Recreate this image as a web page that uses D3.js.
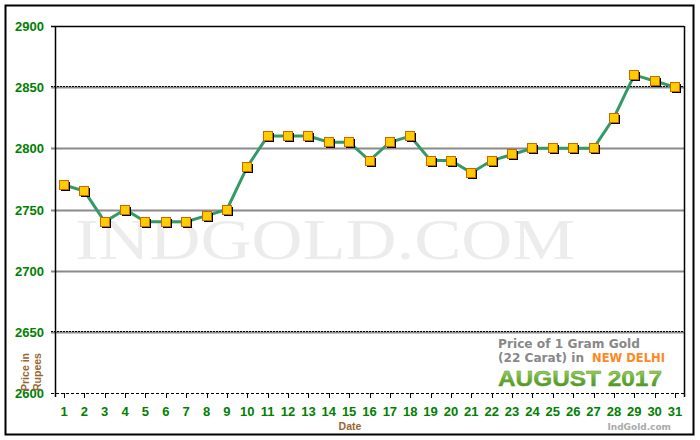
<!DOCTYPE html>
<html><head><meta charset="utf-8">
<script src="https://cdn.jsdelivr.net/npm/d3@7"></script>
<style>body{margin:0;background:#fff}svg{display:block}</style>
</head><body>
<svg id="c" width="700" height="440"></svg>
<script>
const days = d3.range(1, 32);
const prices = [2770,2765,2740,2750,2740,2740,2740,2745,2750,2785,2810,2810,2810,2805,2805,2790,2805,2810,2790,2790,2780,2790,2795,2800,2800,2800,2800,2825,2860,2855,2850];
const yTicks = [2600,2650,2700,2750,2800,2850,2900];
const titleLine1 = "Price of 1 Gram Gold";
const titleLine2a = "(22 Carat) in";
const titleLine2b = "NEW DELHI";
const titleLine3 = "AUGUST 2017";

const svg = d3.select("#c");
const L = 55, R = 684, T = 26, B = 393;
const x = d3.scaleLinear().domain([1, 31]).range([64, 675]);
const y = d3.scaleLinear().domain([2600, 2900]).range([B, T]);

const defs = svg.append("defs");
const g1 = defs.append("linearGradient").attr("id","gg").attr("x1",0).attr("y1",0).attr("x2",0).attr("y2",1);
g1.append("stop").attr("offset","0%").attr("stop-color","#b8e07a");
g1.append("stop").attr("offset","55%").attr("stop-color","#66aa33");
g1.append("stop").attr("offset","100%").attr("stop-color","#3d8a1f");

// outer border
svg.append("rect").attr("x",5.5).attr("y",5.5).attr("width",688).attr("height",429)
  .attr("fill","#fff").attr("stroke","#000").attr("stroke-width",2);

// watermark
svg.append("text").attr("x",75).attr("y",259).attr("font-family","Liberation Serif, serif")
  .attr("font-size",57).attr("fill","#ececec").attr("textLength",500).attr("lengthAdjust","spacingAndGlyphs")
  .text("INDGOLD.COM");

// gridlines
yTicks.forEach(v => {
  const yy = Math.round(y(v));
  if (v === 2900) return;
  if (v === 2600) {
    svg.append("line").attr("x1",51).attr("x2",R).attr("y1",yy+0.5).attr("y2",yy+0.5)
      .attr("stroke","#000").attr("stroke-width",1).attr("stroke-dasharray","3,2");
    return;
  }
  svg.append("line").attr("x1",51).attr("x2",R).attr("y1",yy+0.5).attr("y2",yy+0.5)
    .attr("stroke","#8a8a8a").attr("stroke-width",2);
  if (v === 2850 || v === 2650) {
    svg.append("line").attr("x1",51).attr("x2",R).attr("y1",yy-0.5).attr("y2",yy-0.5)
      .attr("stroke","#000").attr("stroke-width",1).attr("stroke-dasharray","2,1");
  }
});
svg.append("line").attr("x1",51).attr("x2",R).attr("y1",T+0.5).attr("y2",T+0.5).attr("stroke","#000").attr("stroke-width",1.5);
svg.append("line").attr("x1",L+0.5).attr("x2",L+0.5).attr("y1",T).attr("y2",B+4).attr("stroke","#000").attr("stroke-width",1.5);
svg.append("line").attr("x1",R+0.5).attr("x2",R+0.5).attr("y1",T).attr("y2",B+4).attr("stroke","#000").attr("stroke-width",1.5);

// x ticks
svg.append("g").selectAll("line").data(days).join("line")
  .attr("x1", d => Math.round(x(d))+0.5).attr("x2", d => Math.round(x(d))+0.5)
  .attr("y1", B).attr("y2", B+5).attr("stroke","#000");

const tf = "Liberation Sans, Arial, sans-serif";
// y labels
svg.append("g").selectAll("text").data(yTicks).join("text")
  .attr("x",44).attr("y", d => y(d)+5).attr("text-anchor","end")
  .attr("font-family",tf).attr("font-weight","bold")
  .attr("font-size",13).attr("fill","#008000").text(d => d);

// x labels
svg.append("g").selectAll("text").data(days).join("text")
  .attr("x", d => x(d)).attr("y",416).attr("text-anchor","middle")
  .attr("font-family",tf).attr("font-weight","bold")
  .attr("font-size",13).attr("fill","#008000").text(d => d);

// axis titles
svg.append("text").attr("x",350).attr("y",430).attr("text-anchor","middle")
  .attr("font-family",tf).attr("font-weight","bold")
  .attr("font-size",10.5).attr("fill","#996633").text("Date");
const yt = svg.append("text").attr("transform","translate(34,372) rotate(-90)").attr("text-anchor","middle")
  .attr("font-family",tf).attr("font-weight","bold")
  .attr("font-size",10.5).attr("fill","#996633");
yt.append("tspan").attr("x",0).attr("dy",-5).text("Price in");
yt.append("tspan").attr("x",0).attr("dy",12).text("Rupees");

// title box
const tb = "DejaVu Sans, Verdana, sans-serif";
svg.append("text").attr("x",498).attr("y",348).attr("font-family",tb).attr("font-weight","bold")
  .attr("font-size",12).attr("fill","#888").attr("textLength",142).attr("lengthAdjust","spacingAndGlyphs").text(titleLine1);
svg.append("text").attr("x",498).attr("y",362).attr("font-family",tb).attr("font-weight","bold")
  .attr("font-size",12).attr("fill","#888").attr("textLength",86).attr("lengthAdjust","spacingAndGlyphs").text(titleLine2a);
svg.append("text").attr("x",592).attr("y",362).attr("font-family",tb).attr("font-weight","bold")
  .attr("font-size",12).attr("fill","#ff8822").attr("textLength",73).attr("lengthAdjust","spacingAndGlyphs").text(titleLine2b);
svg.append("text").attr("x",498).attr("y",386).attr("font-family",tf).attr("font-weight","bold")
  .attr("font-size",22.5).attr("fill","url(#gg)").attr("stroke","#5a9a30").attr("stroke-width",0.4)
  .attr("textLength",164).attr("lengthAdjust","spacingAndGlyphs").text(titleLine3);
svg.append("text").attr("x",671).attr("y",430).attr("text-anchor","end").attr("font-family",tb)
  .attr("font-weight","bold").attr("font-size",9).attr("fill","#aaa").text("IndGold.com");

// line
const data = days.map((d,i) => ({d, v: prices[i]}));
svg.append("path").datum(data)
  .attr("d", d3.line().x(p => x(p.d)).y(p => y(p.v)))
  .attr("fill","none").attr("stroke","#339966").attr("stroke-width",3);

// markers
const mk = svg.append("g").selectAll("g").data(data).join("g")
  .attr("transform", p => `translate(${Math.round(x(p.d))},${Math.round(y(p.v))})`);
mk.append("rect").attr("x",-3).attr("y",-3).attr("width",9).attr("height",9).attr("fill","#000");
mk.append("rect").attr("x",-4.5).attr("y",-4.5).attr("width",9).attr("height",9)
  .attr("fill","#ffcc00").attr("stroke","#cc6600").attr("stroke-width",1);
</script>
</body></html>
